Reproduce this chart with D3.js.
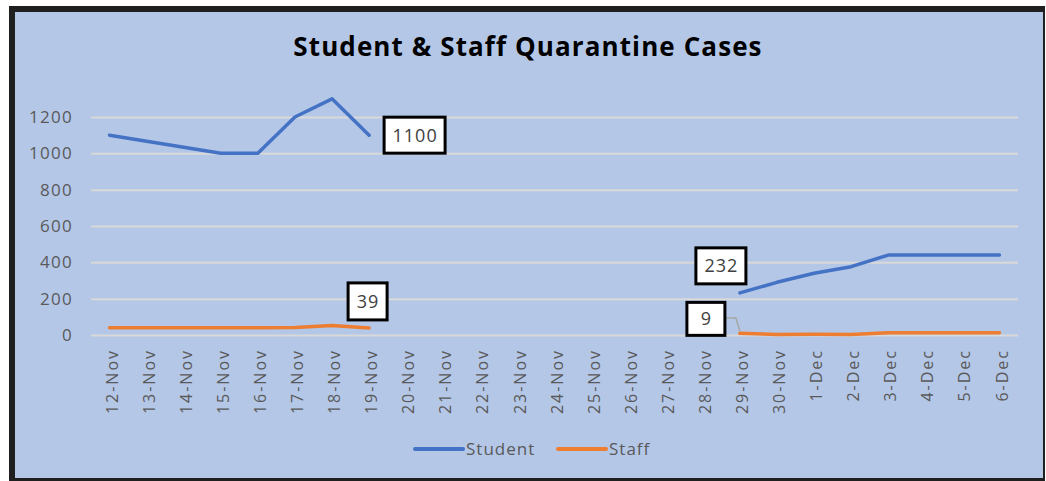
<!DOCTYPE html>
<html>
<head>
<meta charset="utf-8">
<script src="https://cdn.jsdelivr.net/npm/d3@7"></script>
<style>
  body { margin: 0; background: #fff; }
  svg { display: block; }
</style>
</head>
<body>
<svg id="chart"></svg>
<script>
// data
const dates = ['12-Nov','13-Nov','14-Nov','15-Nov','16-Nov','17-Nov','18-Nov','19-Nov','20-Nov','21-Nov',
  '22-Nov','23-Nov','24-Nov','25-Nov','26-Nov','27-Nov','28-Nov','29-Nov','30-Nov','1-Dec','2-Dec',
  '3-Dec','4-Dec','5-Dec','6-Dec']
const student = [1100, 1067, 1033, 1000, 1000, 1200, 1300, 1100, null, null, null, null, null, null,
  null, null, null, 232, 290, 340, 376, 440, 440, 440, 440]
const staff = [40, 40, 40, 40, 40, 41, 52, 39, null, null, null, null, null, null,
  null, null, null, 9, 3, 4, 3, 12, 12, 12, 12]
const yTicks = [0, 200, 400, 600, 800, 1000, 1200]
const seriesNames = ['Student', 'Staff']

const W = 1046, H = 481
const colors = { Student: '#4472C4', Staff: '#ED7D31' }
const font = '"Open Sans", Lato, sans-serif'

const svg = d3.select('#chart').attr('width', W).attr('height', H)

// chart area + frame
svg.append('rect').attr('x', 9).attr('y', 6).attr('width', 1036).attr('height', 475).attr('fill', '#1f1f1f')
svg.append('rect').attr('x', 15).attr('y', 12).attr('width', 1028).attr('height', 466).attr('fill', '#B4C7E7')

const x = d3.scaleBand().domain(dates).range([91, 1018])
const y = d3.scaleLinear().domain([0, 1200]).range([335, 117])

// gridlines
svg.append('g')
  .attr('transform', 'translate(91,0)')
  .call(d3.axisLeft(y).tickValues(yTicks).tickSize(-927).tickFormat(''))
  .call(g => g.select('.domain').remove())
  .call(g => g.selectAll('line').attr('stroke', '#D9D9D9').attr('stroke-width', 2))

// y labels
svg.append('g')
  .attr('transform', 'translate(73,0)')
  .call(d3.axisLeft(y).tickValues(yTicks).tickSize(0).tickPadding(0).tickFormat(d3.format('d')))
  .call(g => g.select('.domain').remove())
  .call(g => g.selectAll('text').attr('fill', '#595959')
    .style('font-family', font).style('font-size', '17px').style('letter-spacing', '1.3px'))

// x labels
svg.append('g')
  .attr('transform', 'translate(0,335)')
  .call(d3.axisBottom(x).tickSize(0))
  .call(g => g.select('.domain').remove())
  .call(g => g.selectAll('text')
    .attr('fill', '#595959')
    .style('font-family', font).style('font-size', '16px').style('letter-spacing', '2px')
    .attr('text-anchor', 'end')
    .attr('transform', 'rotate(-90)')
    .attr('x', -14).attr('y', 2).attr('dy', '0.38em'))

const cx = d => x(d) + x.bandwidth() / 2

const line = d3.line()
  .defined(d => d.v !== null)
  .x(d => cx(d.date))
  .y(d => y(d.v))

const series = [
  { name: 'Student', values: student },
  { name: 'Staff', values: staff }
]

svg.selectAll('.line')
  .data(series)
  .enter()
  .append('path')
  .attr('class', 'line')
  .attr('fill', 'none')
  .attr('stroke', d => colors[d.name])
  .attr('stroke-width', 3.5)
  .attr('stroke-linejoin', 'round')
  .attr('stroke-linecap', 'round')
  .attr('d', d => line(d.values.map((v, i) => ({ date: dates[i], v: v }))))

// leader line for the "9" label
const i9 = dates.indexOf('29-Nov')
svg.append('path')
  .attr('fill', 'none').attr('stroke', '#A6A6A6').attr('stroke-width', 1.5)
  .attr('d', `M725,318 L${cx(dates[i9]) - 4},318 L${cx(dates[i9])},${y(staff[i9]) - 2}`)

// data labels
const labels = [
  { date: '19-Nov', v: student[7], dx: 15, dy: -18, w: 61, h: 36 },
  { date: '19-Nov', v: staff[7], dx: -21, dy: -45, w: 39, h: 37 },
  { date: '29-Nov', v: student[17], dx: -44, dy: -45, w: 50, h: 36 },
  { date: '29-Nov', v: staff[17], dx: -53, dy: -31, w: 38, h: 33 }
]
const lab = svg.selectAll('.lab').data(labels).enter().append('g').attr('class', 'lab')
  .attr('transform', d => `translate(${cx(d.date) + d.dx},${y(d.v) + d.dy})`)
lab.append('rect')
  .attr('width', d => d.w).attr('height', d => d.h)
  .attr('fill', '#fff').attr('stroke', '#000').attr('stroke-width', 3)
lab.append('text')
  .attr('x', d => d.w / 2 + 0.5).attr('y', d => d.h / 2).attr('dy', '0.36em')
  .attr('text-anchor', 'middle')
  .attr('fill', '#404040')
  .style('font-family', font).style('font-size', '18px').style('letter-spacing', '1px')
  .text(d => d.v)

// title
svg.append('text')
  .attr('x', 528).attr('y', 56)
  .attr('text-anchor', 'middle')
  .style('font-family', font).style('font-size', '26px').style('font-weight', 'bold')
  .style('letter-spacing', '1.1px')
  .attr('fill', '#000')
  .text('Student & Staff Quarantine Cases')

// legend
const leg = svg.selectAll('.leg').data(seriesNames).enter().append('g').attr('class', 'leg')
  .attr('transform', (d, i) => `translate(${415 + i * 143},449)`)
leg.append('line').attr('x1', 0).attr('x2', 48)
  .attr('stroke', d => colors[d]).attr('stroke-width', 4).attr('stroke-linecap', 'round')
leg.append('text').attr('x', 51).attr('dy', '0.35em')
  .attr('fill', '#595959')
  .style('font-family', font).style('font-size', '17px').style('letter-spacing', '1px')
  .text(d => d)
</script>
</body>
</html>
